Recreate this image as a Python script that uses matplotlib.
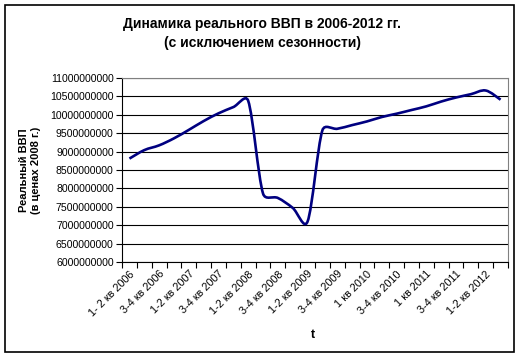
import matplotlib
matplotlib.use("Agg")
import matplotlib.pyplot as plt
from matplotlib.path import Path
from matplotlib.patches import PathPatch, Rectangle
from matplotlib.ticker import FuncFormatter, MultipleLocator
import numpy as np

plt.rcParams["font.family"] = ["Liberation Sans", "DejaVu Sans"]

# quarterly real GDP, 2006 Q1 .. 2012 Q2 (seasonally adjusted)
gdp = [8.81e9, 9.04e9, 9.17e9, 9.36e9, 9.59e9, 9.83e9, 10.04e9, 10.21e9,
       10.38e9, 7.86e9, 7.74e9, 7.47e9, 7.10e9, 9.58e9, 9.62e9, 9.72e9,
       9.82e9, 9.94e9, 10.03e9, 10.13e9, 10.23e9, 10.36e9, 10.47e9, 10.56e9,
       10.66e9, 10.41e9]
tick_labels = ["1- 2 кв 2006", "3-4 кв 2006", "1-2 кв 2007", "3-4 кв 2007",
               "1-2 кв 2008", "3-4 кв 2008", "1-2 кв 2009", "3-4 кв 2009",
               "1 кв 2010", "3-4 кв 2010", "1 кв 2011", "3-4 кв 2011",
               "1-2 кв 2012"]
title = "Динамика реального ВВП в 2006-2012 гг.\n(с исключением сезонности)"
ylabel = "Реальный ВВП\n(в ценах 2008 г.)"

LINE_COLOR = "#000080"
PX_X = 14.85          # pixels per category
PX_Y = 36.6 / 1e9     # pixels per unit of value


def excel_smooth_path(xs, ys):
    # Excel-like smoothed line: Catmull-Rom Bezier, tangents capped
    # at half the segment length (computed in screen-like units)
    p = np.column_stack([np.asarray(xs) * PX_X, np.asarray(ys) * PX_Y])
    n = len(p)
    verts = [p[0]]
    codes = [Path.MOVETO]
    for i in range(n - 1):
        p0 = p[i - 1] if i > 0 else p[i]
        p1, p2 = p[i], p[i + 1]
        p3 = p[i + 2] if i + 2 < n else p[i + 1]
        d12 = np.hypot(*(p2 - p1))
        d02 = np.hypot(*(p2 - p0))
        d13 = np.hypot(*(p3 - p1))
        f0 = 1 / 6
        f1 = 1 / 6
        if d02 / 6 > d12 / 2 and d02 > 0:
            f0 = d12 / (2 * d02)
        if d13 / 6 > d12 / 2 and d13 > 0:
            f1 = d12 / (2 * d13)
        c1 = p1 + (p2 - p0) * f0
        c2 = p2 - (p3 - p1) * f1
        verts += [c1, c2, p2]
        codes += [Path.CURVE4] * 3
    verts = np.array(verts)
    verts[:, 0] /= PX_X
    verts[:, 1] /= PX_Y
    return Path(verts, codes)


fig = plt.figure(figsize=(5.2, 3.58), dpi=100)
ax = fig.add_axes([122 / 520, 1 - 262 / 358, 386 / 520, 184 / 358])

x = np.arange(len(gdp))
ax.add_patch(PathPatch(excel_smooth_path(x, gdp), facecolor="none",
                       edgecolor=LINE_COLOR, lw=1.9, zorder=3))

ax.set_xlim(-0.5, len(gdp) - 0.5)
ax.set_ylim(6e9, 11e9)
ax.yaxis.set_major_locator(MultipleLocator(5e8))
ax.yaxis.set_major_formatter(FuncFormatter(lambda v, p: f"{int(round(v))}"))
ax.grid(axis="y", color="black", lw=0.8)
ax.set_axisbelow(True)

# category boundaries as ticks, labels on every second category
ax.set_xticks(np.arange(-0.5, len(gdp), 1.0))
ax.set_xticklabels([])
ax.set_xticks(x[::2], tick_labels, minor=True)
ax.tick_params(axis="x", which="major", length=4, width=0.8, direction="out")
ax.tick_params(axis="x", which="minor", length=0, pad=5, labelsize=7.8)
for lab in ax.get_xticklabels(minor=True):
    lab.set_rotation(45)
    lab.set_ha("right")
    lab.set_rotation_mode("anchor")
ax.tick_params(axis="y", length=4, width=0.8, labelsize=7.6, pad=2)

for s in ["top", "right"]:
    ax.spines[s].set_color("#808080")
for s in ["left", "bottom"]:
    ax.spines[s].set_color("black")
for s in ax.spines.values():
    s.set_linewidth(0.8)

fig.text(262 / 520, 1 - 33.5 / 358, title, ha="center", va="center",
         fontsize=10, fontweight="bold", linespacing=1.45)
fig.text(30 / 520, 1 - 170 / 358, ylabel, ha="center", va="center",
         rotation=90, fontsize=8, fontweight="bold", linespacing=1.3)
fig.text(313 / 520, 1 - 335 / 358, "t", ha="center", va="center",
         fontsize=9, fontweight="bold")

fig.patches.append(Rectangle((5 / 520, 1 - 352 / 358), 509 / 520, 347 / 358,
                             transform=fig.transFigure, fill=False,
                             edgecolor="black", lw=1.2))

fig.savefig("out.png", dpi=100)
